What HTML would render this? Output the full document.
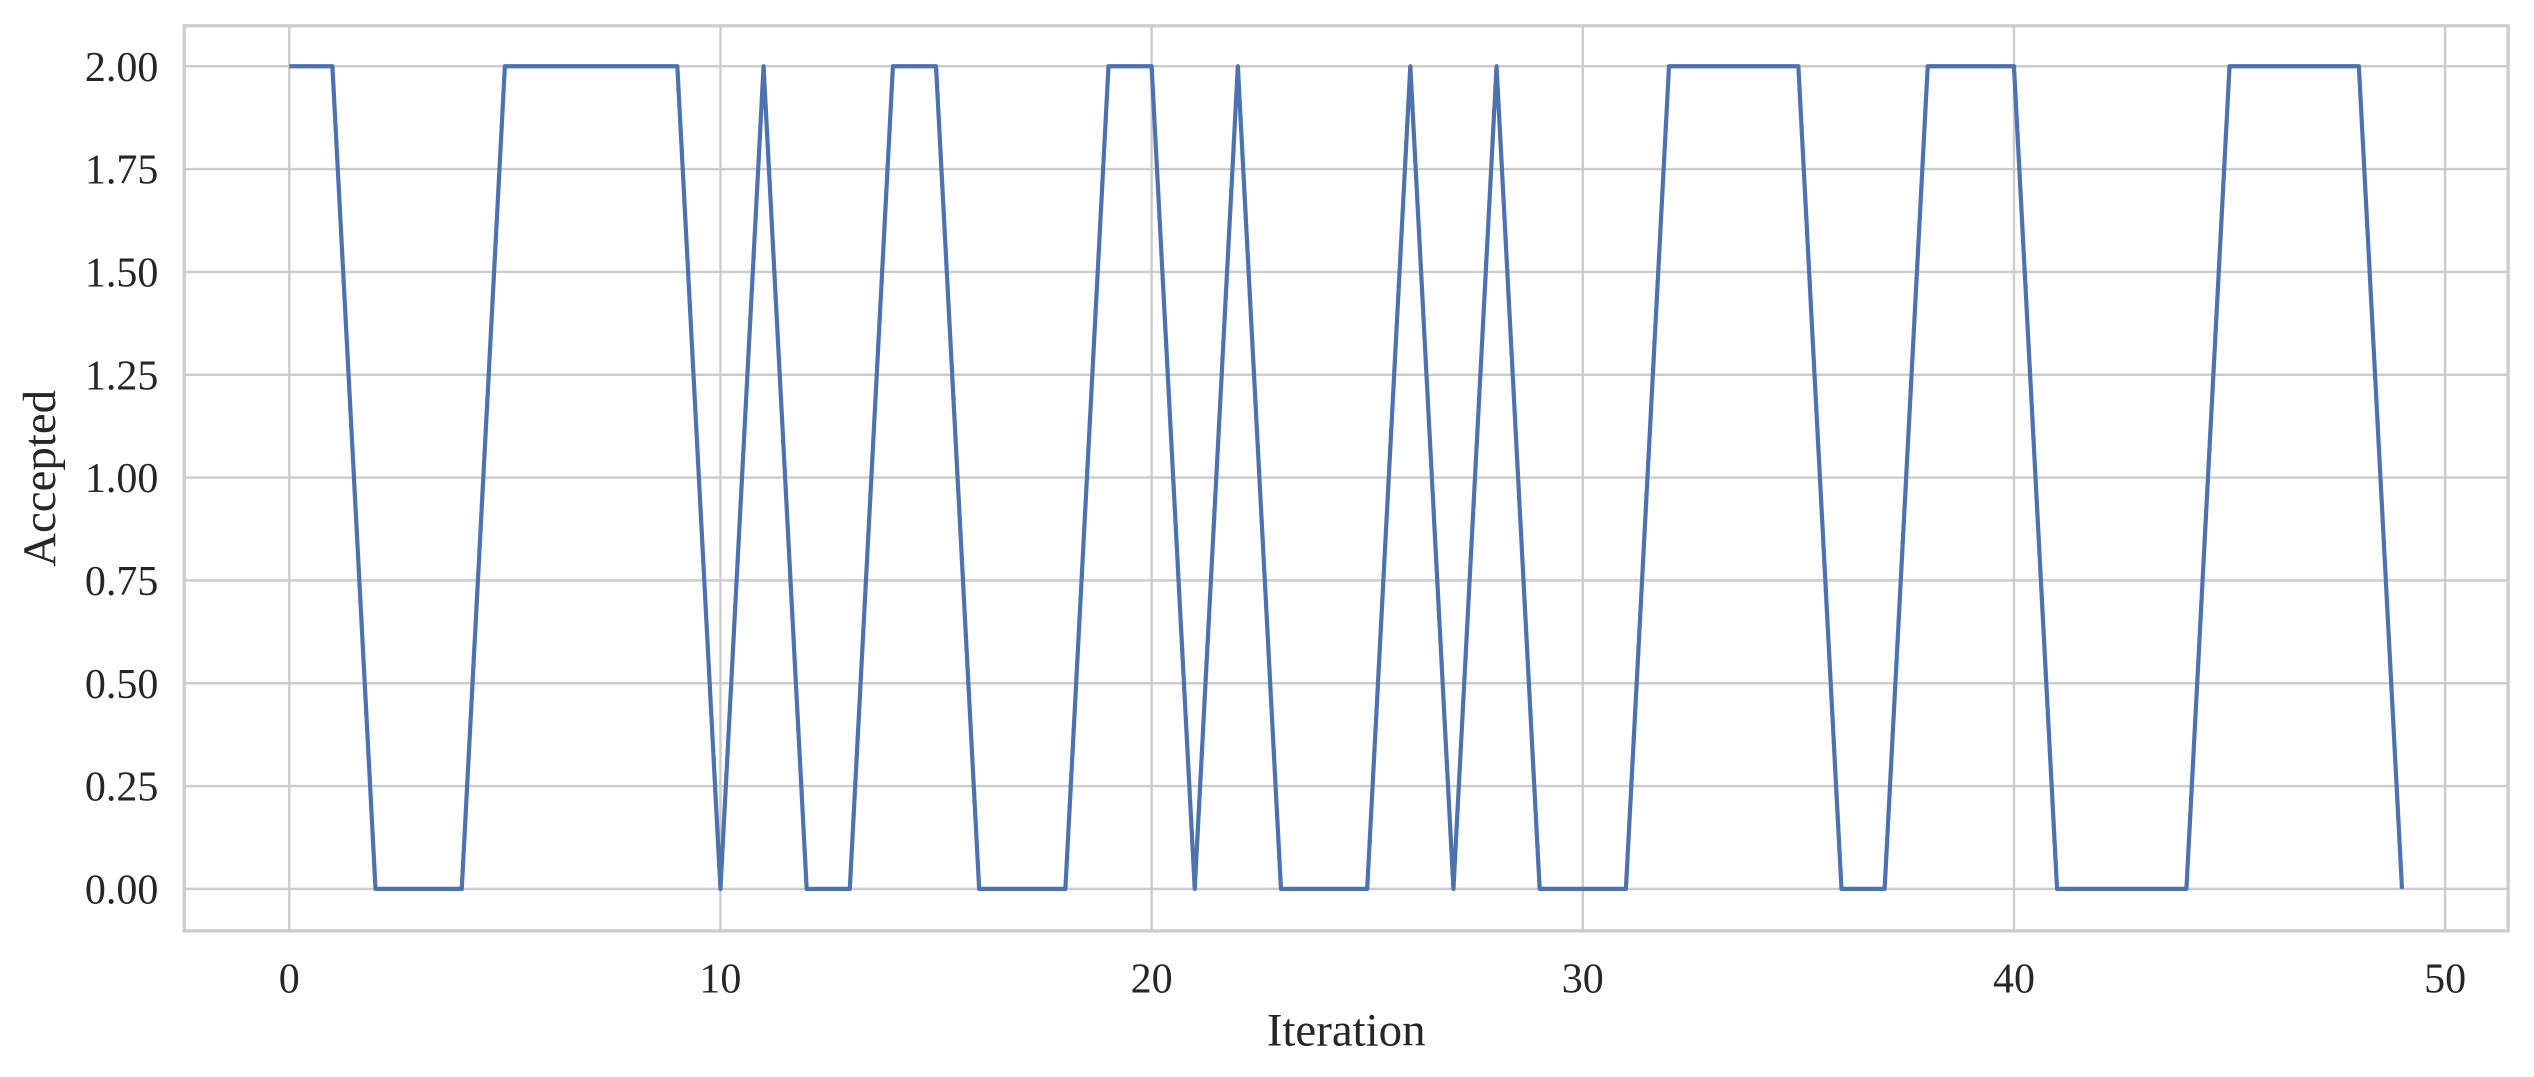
<!DOCTYPE html>
<html><head><meta charset="utf-8"><style>
html,body{margin:0;padding:0;background:#fff;}
svg{display:block;font-family:"Liberation Serif",serif;}
</style></head><body>
<svg id="chart" width="2534" height="1077" viewBox="0 0 1568 666.4" preserveAspectRatio="none">
<rect x="0" y="0" width="1568" height="666.4" fill="#fff"/>
<g id="grid"></g>
<g id="ticks"></g>
<rect x="114" y="16" width="1438" height="560" fill="none" stroke="#cccccc" stroke-width="2"/>
<g id="series"></g>
<text x="833" y="647" text-anchor="middle" font-size="29" fill="#262626">Iteration</text>
<text x="0" y="0" transform="translate(34,296) rotate(-90)" text-anchor="middle" font-size="29" fill="#262626">Accepted</text>
</svg>
<script>
const iterations = Array.from({length:50},(_, i)=>i);
const accepted = [2,2,0,0,0,2,2,2,2,2,0,2,0,0,2,2,0,0,0,2,2,0,2,0,0,0,2,0,2,0,0,0,2,2,2,2,0,0,2,2,2,0,0,0,0,2,2,2,2,0];
const xTicks = [0,10,20,30,40,50];
const yTicks = [0,0.25,0.5,0.75,1,1.25,1.5,1.75,2];
const yTickLabels = ["0.00","0.25","0.50","0.75","1.00","1.25","1.50","1.75","2.00"];
const NS="http://www.w3.org/2000/svg";
const L=114,R=1552,T=16,B=576;
function xs(v){return 179+(1513-179)*v/50;}
function ys(v){return 550-(550-41)*v/2;}
const grid=document.getElementById('grid'),ticks=document.getElementById('ticks'),series=document.getElementById('series');
function mk(tag,attrs,parent){const e=document.createElementNS(NS,tag);for(const k in attrs)e.setAttribute(k,attrs[k]);parent.appendChild(e);return e;}
xTicks.forEach(t=>{
  const g=mk('line',{x1:xs(t),x2:xs(t),y1:T,y2:B,stroke:'#cccccc','stroke-width':1.5},grid);
  
  
  const tx=mk('text',{x:xs(t),y:614,'text-anchor':'middle','font-size':26,fill:'#262626'},ticks);
  tx.textContent=t;
  
  
});
yTicks.forEach((t,i)=>{
  const g=mk('line',{x1:L,x2:R,y1:ys(t),y2:ys(t),stroke:'#cccccc','stroke-width':1.5},grid);
  
  
  const tx=mk('text',{x:98,y:ys(t)+9,'text-anchor':'end','font-size':26,fill:'#262626'},ticks);
  tx.textContent=yTickLabels[i];
  
  
});
const pts=iterations.map((x,i)=>xs(x)+','+ys(accepted[i])).join(' ');
const pl=mk('polyline',{points:pts,fill:'none',stroke:'#4c72b0','stroke-width':2.6,'stroke-linejoin':'round'},series);


</script>
</body></html>
